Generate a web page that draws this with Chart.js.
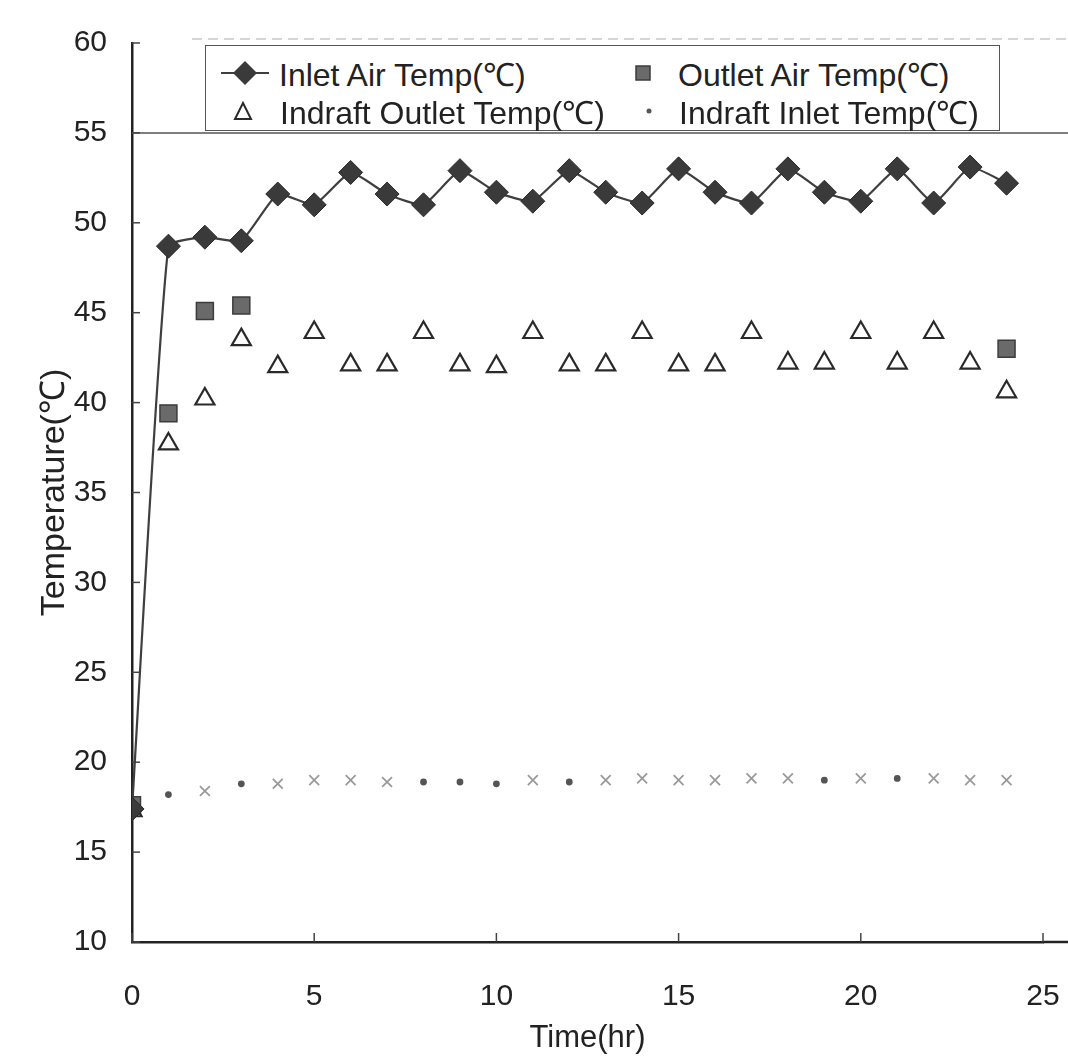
<!DOCTYPE html>
<html>
<head>
<meta charset="utf-8">
<script src="https://cdn.jsdelivr.net/npm/chart.js@4.4.0/dist/chart.umd.min.js"></script>
<style>
  html, body { margin: 0; padding: 0; background: #fff; }
  #wrap { position: relative; width: 1068px; height: 1061px; }
  #legend {
    position: absolute; left: 205px; top: 45px; width: 795px; height: 86px;
    border: 1.5px solid #555; background: #fff; box-sizing: border-box;
    font-family: "Liberation Sans", Arial, sans-serif; font-size: 32px; color: #222;
  }
  .item { position: absolute; display: flex; align-items: center; height: 36px; white-space: nowrap; }
  .item svg { display: block; }
  .li0 { left: 15px; top: 9px; }
  .li0 svg { margin-right: 10px; }
  .li1 { left: 429px; top: 9px; }
  .li1 svg { margin-right: 27px; }
  .li2 { left: 27px; top: 47px; }
  .li2 svg { margin-right: 27px; }
  .li3 { left: 438px; top: 47px; }
  .li3 svg { margin-right: 25px; }
</style>
</head>
<body>
<div id="wrap">
  <canvas id="chart" width="1068" height="1061"></canvas>
  <div id="legend"></div>
</div>
<script>
const time = [0, 1, 2, 3, 4, 5, 6, 7, 8, 9, 10, 11, 12, 13, 14, 15, 16, 17, 18, 19, 20, 21, 22, 23, 24];

const inletAir = [17.4, 48.7, 49.2, 49.0, 51.6, 51.0, 52.8, 51.6, 51.0, 52.9, 51.7, 51.2, 52.9,
  51.7, 51.1, 53.0, 51.7, 51.1, 53.0, 51.7, 51.2, 53.0, 51.1, 53.1, 52.2];

const outletAir = [17.6, 39.4, 45.1, 45.4, null, null, null, null, null, null, null, null, null,
  null, null, null, null, null, null, null, null, null, null, null, 43.0];

const indraftOutlet = [17.3, 37.7, 40.2, 43.5, 42.0, 43.9, 42.1, 42.1, 43.9, 42.1, 42.0, 43.9, 42.1,
  42.1, 43.9, 42.1, 42.1, 43.9, 42.2, 42.2, 43.9, 42.2, 43.9, 42.2, 40.6];

const indraftInlet = [17.4, 18.2, 18.4, 18.8, 18.8, 19.0, 19.0, 18.9, 18.9, 18.9, 18.8, 19.0, 18.9,
  19.0, 19.1, 19.0, 19.0, 19.1, 19.1, 19.0, 19.1, 19.1, 19.1, 19.0, 19.0];

const seriesLabels = [
  "Inlet Air Temp(\u2103)",
  "Outlet Air Temp(\u2103)",
  "Indraft Outlet Temp(\u2103)",
  "Indraft Inlet Temp(\u2103)",
];

const xTicks = [0, 5, 10, 15, 20, 25];
const yTicks = [10, 15, 20, 25, 30, 35, 40, 45, 50, 55, 60];

// the scanned "indraft inlet" marks are a mix of dots and little crosses
const inletMarks = ["circle", "circle", "crossRot", "circle", "crossRot", "crossRot", "crossRot", "crossRot",
  "circle", "circle", "circle", "crossRot", "circle", "crossRot", "crossRot", "crossRot", "crossRot",
  "crossRot", "crossRot", "circle", "crossRot", "circle", "crossRot", "crossRot", "crossRot"];

const FONT = "'Liberation Sans', Arial, sans-serif";

const pts = (ys) => time.map((t, i) => ({ x: t, y: ys[i] }));

// reference lines and inward tick marks, placed through the scales
const framePlugin = {
  id: "frame",
  beforeDatasetsDraw(chart) {
    const { ctx, chartArea, scales } = chart;
    ctx.save();
    const y55 = scales.y.getPixelForValue(55);
    ctx.strokeStyle = "#555";
    ctx.lineWidth = 1.5;
    ctx.beginPath();
    ctx.moveTo(chartArea.left, y55);
    ctx.lineTo(chart.width, y55);
    ctx.stroke();
    const y60 = scales.y.getPixelForValue(60) - 4;
    ctx.strokeStyle = "#c8c8c8";
    ctx.setLineDash([10, 6]);
    ctx.beginPath();
    ctx.moveTo(chartArea.left + 60, y60);
    ctx.lineTo(chart.width, y60);
    ctx.stroke();
    ctx.setLineDash([]);
    // x axis line runs on past 25 to the edge of the scan
    ctx.strokeStyle = "#222";
    ctx.lineWidth = 2.5;
    ctx.beginPath();
    ctx.moveTo(chartArea.right, chartArea.bottom);
    ctx.lineTo(chart.width, chartArea.bottom);
    ctx.stroke();
    ctx.strokeStyle = "#444";
    ctx.lineWidth = 1.5;
    yTicks.forEach((v) => {
      const py = scales.y.getPixelForValue(v);
      ctx.beginPath();
      ctx.moveTo(chartArea.left, py);
      ctx.lineTo(chartArea.left + 8, py);
      ctx.stroke();
    });
    xTicks.forEach((v) => {
      const px = scales.x.getPixelForValue(v);
      ctx.beginPath();
      ctx.moveTo(px, chartArea.bottom);
      ctx.lineTo(px, chartArea.bottom - 9);
      ctx.stroke();
    });
    ctx.restore();
  },
};

const chart = new Chart(document.getElementById("chart"), {
  type: "line",
  data: {
    datasets: [
      {
        label: seriesLabels[0],
        data: pts(inletAir),
        borderColor: "#3f3f3f",
        borderWidth: 2.2,
        tension: 0.15,
        pointStyle: "rectRot",
        pointRadius: 12,
        pointBackgroundColor: "#3a3a3a",
        pointBorderColor: "#2a2a2a",
        pointBorderWidth: 1,
        order: 1,
      },
      {
        label: seriesLabels[1],
        data: pts(outletAir),
        showLine: false,
        pointStyle: "rect",
        pointRadius: 12,
        pointBackgroundColor: "#6a6a6a",
        pointBorderColor: "#3c3c3c",
        pointBorderWidth: 1.5,
        order: 3,
      },
      {
        label: seriesLabels[2],
        data: pts(indraftOutlet),
        showLine: false,
        pointStyle: "triangle",
        pointRadius: 11,
        pointBackgroundColor: "rgba(255,255,255,0)",
        pointBorderColor: "#2a2a2a",
        pointBorderWidth: 2.2,
        order: 2,
      },
      {
        label: seriesLabels[3],
        data: pts(indraftInlet),
        showLine: false,
        pointStyle: inletMarks,
        pointRadius: (c) => (inletMarks[c.dataIndex] === "circle" ? 2.5 : 7),
        pointBackgroundColor: "#555",
        pointBorderColor: (c) => (inletMarks[c.dataIndex] === "circle" ? "#555" : "#9a9a9a"),
        pointBorderWidth: 1.8,
        order: 4,
      },
    ],
  },
  options: {
    responsive: false,
    animation: false,
    layout: { padding: { left: 34, right: 25, top: 40, bottom: 4 } },
    plugins: {
      legend: { display: false },
      tooltip: { enabled: false },
    },
    scales: {
      x: {
        type: "linear",
        min: 0,
        max: 25,
        afterBuildTicks: (s) => { s.ticks = xTicks.map((v) => ({ value: v })); },
        afterFit: (s) => {
          s.height = 115;
          // the tick padding should push labels down, not squeeze the plot sideways
          s.paddingLeft = 0;
          s.paddingRight = 0;
        },
        ticks: { color: "#222", font: { family: FONT, size: 30 }, padding: 37 },
        grid: { display: false, drawTicks: false },
        border: { color: "#222", width: 2.5 },
        title: {
          display: true, text: "Time(hr)", color: "#222",
          font: { family: FONT, size: 31 }, padding: { top: 0, bottom: 0 },
        },
      },
      y: {
        min: 10,
        max: 60,
        afterBuildTicks: (s) => { s.ticks = yTicks.map((v) => ({ value: v })); },
        afterFit: (s) => { s.width = 98; },
        ticks: { color: "#222", font: { family: FONT, size: 30 }, padding: 25 },
        grid: { display: false, drawTicks: false },
        border: { color: "#222", width: 2.5 },
        title: {
          display: true, text: "Temperature(\u2103)", color: "#222",
          font: { family: FONT, size: 34 }, padding: { top: 0, bottom: 0 },
        },
      },
    },
  },
  plugins: [framePlugin],
});

// legend box inside the plot, like the original figure
const markers = [
  '<svg width="48" height="26"><line x1="0" y1="13" x2="48" y2="13" stroke="#3f3f3f" stroke-width="2.2"/>' +
    '<polygon points="24,1 36,13 24,25 12,13" fill="#3a3a3a"/></svg>',
  '<svg width="16" height="16"><rect x="1" y="1" width="14" height="14" fill="#6a6a6a" stroke="#3c3c3c" stroke-width="1.5"/></svg>',
  '<svg width="20" height="20"><polygon points="10,2 18,18 2,18" fill="none" stroke="#2a2a2a" stroke-width="2"/></svg>',
  '<svg width="10" height="10"><circle cx="5" cy="5" r="2.5" fill="#555"/></svg>',
];

const legendEl = document.getElementById("legend");
chart.data.datasets.forEach((ds, i) => {
  const item = document.createElement("div");
  item.className = "item li" + i;
  item.innerHTML = markers[i];
  const span = document.createElement("span");
  span.textContent = ds.label;
  item.appendChild(span);
  legendEl.appendChild(item);
});
</script>
</body>
</html>
